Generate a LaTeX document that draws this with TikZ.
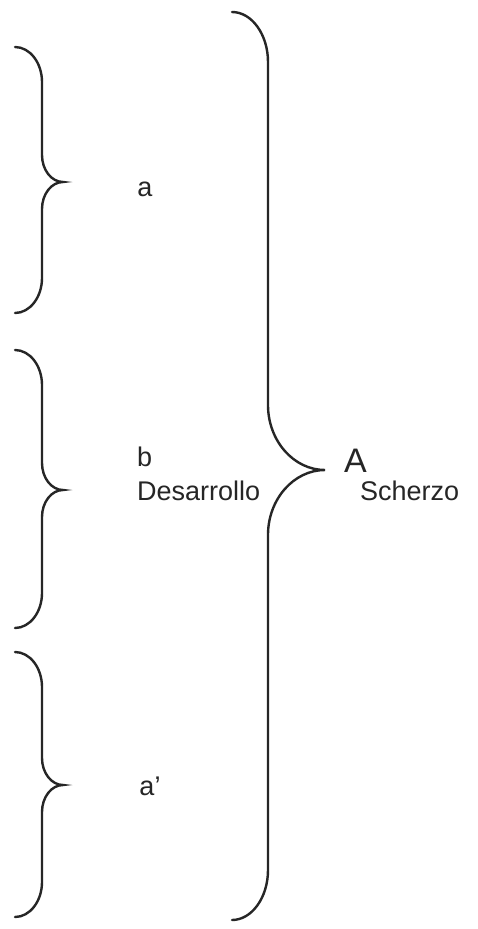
\documentclass[tikz,border=0pt]{standalone}
\usepackage{fontspec}
\setmainfont{Liberation Sans}
\newcommand\mybrace[8]{% xe, xv, xt, top, tip, bot, r, h
  \draw[bracestyle]
    (#1,#4) .. controls ({#1+0.55*(#2-#1)},#4) and (#2,{#4+0.45*#7}) .. (#2,{#4+#7})
    -- (#2,{#5-#8})
    .. controls (#2,{#5-0.45*#8}) and ({#3-0.55*(#3-#2)},#5) .. (#3,#5)
    .. controls ({#3-0.55*(#3-#2)},#5) and (#2,{#5+0.45*#8}) .. (#2,{#5+#8})
    -- (#2,{#6-#7})
    .. controls (#2,{#6-0.45*#7}) and ({#1+0.55*(#2-#1)},#6) .. (#1,#6);}
\begin{document}
\begin{tikzpicture}[x=1pt,y=-1pt,
  bracestyle/.style={draw=black!85,line width=2.4pt,line cap=round},
  lbl/.style={inner sep=0pt,font=\fontsize{27}{30}\selectfont,text=black!85},
  biglbl/.style={inner sep=0pt,font=\fontsize{34}{38}\selectfont,text=black!85}]
\useasboundingbox[fill=white] (0,0) rectangle (478,929);
% small braces
\mybrace{15}{42}{63}{47}{182}{313}{35}{27}
\mybrace{15}{42}{63}{350}{490}{628}{35}{27}
\mybrace{15}{42}{63}{652}{785}{917}{35}{27}
% big brace
\mybrace{232}{268}{325}{12}{470}{920}{50}{65}
% labels
\node[lbl,anchor=base] (la) at (145,196) {a};
\node[lbl,anchor=base west] (lb) at (137,466) {b};
\node[lbl,anchor=base west] (ldes) at (137,500) {Desarrollo};
\node[lbl,anchor=base] (lap) at (150,795) {a’};
\node[biglbl,anchor=base west] (lA) at (344,472) {A};
\node[lbl,anchor=base west] (lsch) at (360,500) {Scherzo};
\end{tikzpicture}
\end{document}
